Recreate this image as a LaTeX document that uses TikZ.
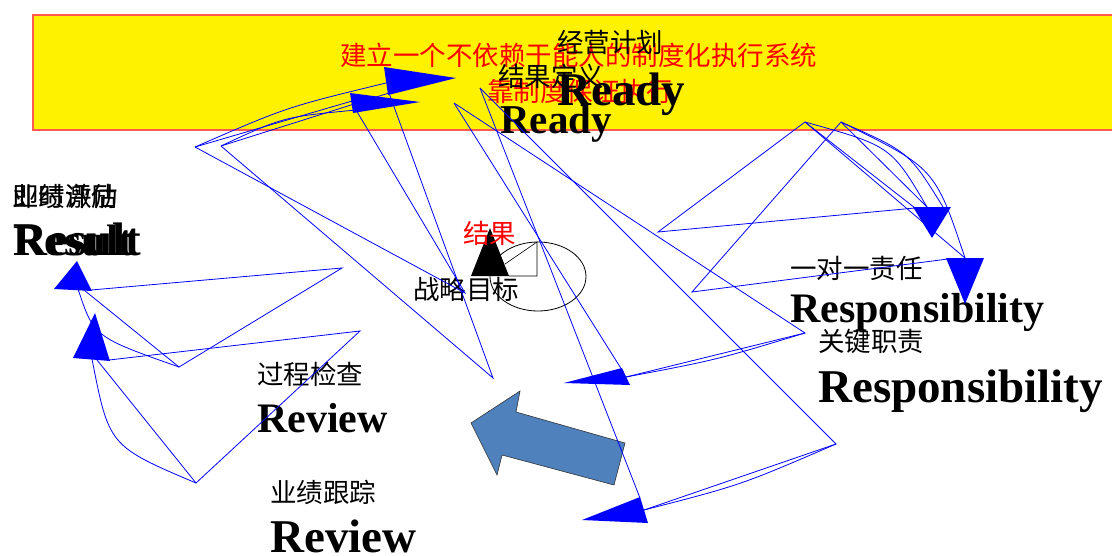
\documentclass[tikz,border=0pt]{standalone}
\usepackage{fontspec}
\newfontfamily\cjkf{Noto Sans CJK SC}
\newfontfamily\serf{Liberation Serif}
\definecolor{boxline}{RGB}{255,90,80}
\definecolor{steel}{RGB}{79,129,189}
\begin{document}
\begin{tikzpicture}[x=1pt,y=-1pt,
  cn/.style={inner sep=0pt, anchor=west, font=\cjkf\fontsize{26.5}{30}\selectfont},
  en/.style={inner sep=0pt, anchor=base west, font=\serf\bfseries\fontsize{#1}{#1}\selectfont},
  ln/.style={draw=blue, line width=0.8pt},
  hd/.style={fill=blue},
]
\useasboundingbox (0,0) rectangle (1112,555);
% banner
\fill[yellow] (33,15) rectangle (1114,130);
\draw[boxline, line width=1.4pt] (1114,15) -- (33,15) -- (33,130) -- (1114,130);

% texts
\node[cn, text=red] (t1) at (340,55) {建立一个不依赖于能人的制度化执行系统};
\node[cn, text=red] (t2) at (487,91) {靠制度保证执行};
\node[cn] (t3) at (557,42) {经营计划};
\node[cn] (t5) at (498,76) {结果定义};
\node[en=47] (t4) at (557,105) {Ready};
\node[en=41] (t6) at (500,133) {Ready};
\node[cn] (t7) at (12,196) {业绩评估};
\node[cn] (t7b) at (12,196) {即时激励};
\node[en=44] (t8) at (13,255) {Result};
\node[en=47] (t8b) at (13,255) {Result};
\node[cn] (t11) at (790,268) {一对一责任};
\node[en=42] (t12) at (790,322) {Responsibility};
\node[cn] (t13) at (818,341) {关键职责};
\node[en=47] (t14) at (818,402) {Responsibility};
\node[cn] (t15) at (257,374) {过程检查};
\node[en=42] (t16) at (257,432) {Review};
\node[cn] (t17) at (270,492) {业绩跟踪};
\node[en=47] (t18) at (270,552) {Review};

% centre symbol
\draw[line width=0.8pt] (538,276.5) ellipse [x radius=48, y radius=34.5];
\coordinate (s1) at (505,264); \coordinate (s2) at (537,242);
\coordinate (s3) at (537,276); \coordinate (s4) at (509,276);
\draw[line width=0.6pt] (s1) -- (s2) -- (s3) -- (s4);
\fill[black] (490,228) -- (471,276) -- (509,276) -- cycle;
\node[cn, text=red] (t9) at (463,233) {结果};
\node[cn] (t10) at (413,289) {战略目标};

% block arrow
\filldraw[fill=steel, draw=black!80, line width=0.6pt]
  (471,423) -- (520,391) -- (516,412) -- (625,443) -- (614,485) -- (502,455) -- (497,475) -- cycle;

% ---- top-left group
\coordinate (P1) at (195,147); \coordinate (P2) at (221,146);
\coordinate (Q1) at (465,293); \coordinate (Q2) at (493,378);
\coordinate (Ab) at (386,83); \coordinate (Al) at (389,93);
\coordinate (Bb) at (352,101); \coordinate (Bl) at (356,110);
\fill[hd] (384,67) -- (456,78) -- (388,95) -- cycle;
\fill[hd] (350,93) -- (420,102) -- (353,113) -- cycle;
\draw[ln] (P1) -- (Q1) -- (Bl);
\draw[ln] (P2) -- (Q2) -- (Al);
\draw[ln] (P1) .. controls (287,107) .. (Ab);
\draw[ln] (P1) -- (Bb);
\draw[ln] (P2) -- (Al);
\draw[ln] (P2) .. controls (283,117) .. (Bl);

% ---- right group
\coordinate (T1) at (805,122); \coordinate (T2) at (841,122);
\coordinate (L1) at (658,232); \coordinate (L2) at (692,292);
\coordinate (Cl) at (915,208); \coordinate (Cm) at (927,207); \coordinate (Cr) at (943,207);
\coordinate (Dl) at (948,259); \coordinate (Dm) at (965,258);
\fill[hd] (913,207) -- (951,207) -- (932,238) -- cycle;
\fill[hd] (946,258) -- (984,258) -- (965,304) -- cycle;
\draw[ln] (T1) -- (L1) -- (Cl);
\draw[ln] (T2) -- (L2) -- (Dl);
\draw[ln] (T1) .. controls (891,146) .. (Cm);
\draw[ln] (T1) -- (Cl);
\draw[ln] (T1) -- (Dm);
\draw[ln] (T2) -- (Cm);
\draw[ln] (T2) .. controls (909,152) .. (Cr);
\draw[ln] (T2) .. controls (935,168) .. (Dm);

% ---- left group
\coordinate (V1) at (179,367); \coordinate (V2) at (196,483);
\coordinate (W1) at (342,268); \coordinate (W2) at (360,331);
\coordinate (Gr) at (91,290); \coordinate (Gm) at (84,290); \coordinate (Gc) at (78,289);
\coordinate (Hr) at (109,360); \coordinate (Hm) at (97,360); \coordinate (Hc) at (92,359);
\fill[hd] (77,261) -- (54,289) -- (92,291) -- cycle;
\fill[hd] (95,313) -- (73,358) -- (110,361) -- cycle;
\draw[ln] (Gr) -- (W1) -- (V1) -- (Gm);
\draw[ln] (V1) .. controls (94,337) .. (Gc);
\draw[ln] (Hr) -- (W2) -- (V2) -- (Hm);
\draw[ln] (V2) .. controls (109,446) .. (Hc);

% ---- middle group
\coordinate (R1) at (454,103); \coordinate (R2) at (480,88);
\coordinate (M1) at (805,333); \coordinate (M2) at (836,444);
\coordinate (Eb) at (626,377); \coordinate (Et) at (622,370);
\coordinate (Fb) at (644,510); \coordinate (Ft) at (640,498);
\fill[hd] (564,383) -- (622,368) -- (630,385) -- cycle;
\fill[hd] (582,520) -- (640,497) -- (648,523) -- cycle;
\draw[ln] (R1) -- (M1) -- (Eb);
\draw[ln] (M1) .. controls (716,360) .. (Eb);
\draw[ln] (R1) -- (Et);
\draw[ln] (R2) -- (M2) -- (Fb);
\draw[ln] (M2) .. controls (741,485) .. (Fb);
\draw[ln] (R2) -- (Ft);
\end{tikzpicture}
\end{document}
